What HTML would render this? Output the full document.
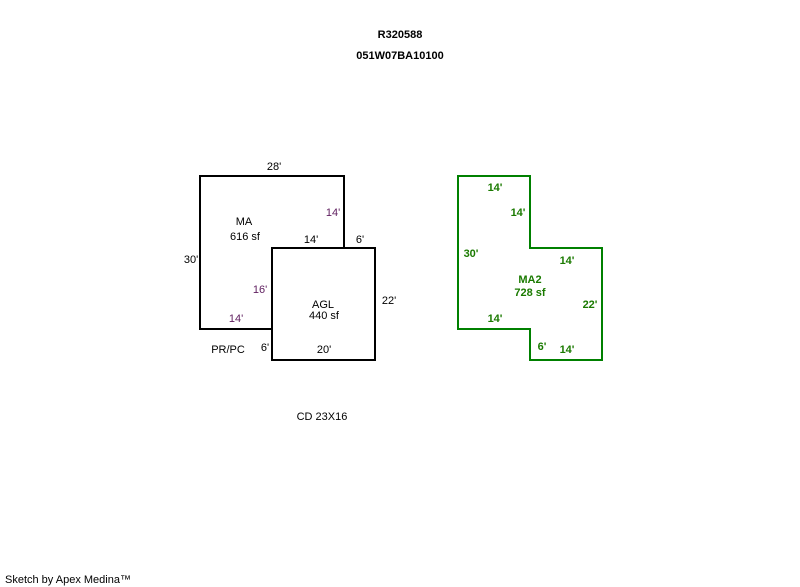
<!DOCTYPE html>
<html><head><meta charset="utf-8"><style>
html,body{margin:0;padding:0;background:#fff;}
svg{display:block;}
text{font-family:"Liberation Sans",Arial,sans-serif;font-size:11px;}
</style></head><body>
<svg width="800" height="587" viewBox="0 0 800 587" xmlns="http://www.w3.org/2000/svg">
<text x="400" y="38" text-anchor="middle" font-weight="bold">R320588</text>
<text x="400" y="59" text-anchor="middle" font-weight="bold">051W07BA10100</text>

<rect x="200" y="176" width="144" height="153" fill="none" stroke="#000" stroke-width="2"/>
<rect x="272" y="248" width="103" height="112" fill="#fff" stroke="#000" stroke-width="2"/>

<text x="274" y="170" text-anchor="middle">28'</text>
<text x="244" y="225" text-anchor="middle">MA</text>
<text x="245" y="240" text-anchor="middle">616 sf</text>
<text x="333" y="216" text-anchor="middle" fill="#602060">14'</text>
<text x="311" y="243" text-anchor="middle">14'</text>
<text x="360" y="243" text-anchor="middle">6'</text>
<text x="191" y="263" text-anchor="middle">30'</text>
<text x="260" y="293" text-anchor="middle" fill="#602060">16'</text>
<text x="389" y="304" text-anchor="middle">22'</text>
<text x="323" y="308" text-anchor="middle">AGL</text>
<text x="324" y="319" text-anchor="middle">440 sf</text>
<text x="236" y="322" text-anchor="middle" fill="#602060">14'</text>
<text x="228" y="353" text-anchor="middle">PR/PC</text>
<text x="265" y="351" text-anchor="middle">6'</text>
<text x="324" y="353" text-anchor="middle">20'</text>
<text x="322" y="420" text-anchor="middle">CD 23X16</text>

<polygon points="458,176 530,176 530,248 602,248 602,360 530,360 530,329 458,329" fill="none" stroke="#008000" stroke-width="2"/>
<g fill="#1a7a00" font-weight="bold" text-anchor="middle">
<text x="495" y="191">14'</text>
<text x="518" y="216">14'</text>
<text x="471" y="257">30'</text>
<text x="567" y="264">14'</text>
<text x="530" y="283">MA2</text>
<text x="530" y="296">728 sf</text>
<text x="590" y="308">22'</text>
<text x="495" y="322">14'</text>
<text x="542" y="350">6'</text>
<text x="567" y="353">14'</text>
</g>

<text x="5" y="583" font-size="10">Sketch by Apex Medina™</text>
</svg>
</body></html>
